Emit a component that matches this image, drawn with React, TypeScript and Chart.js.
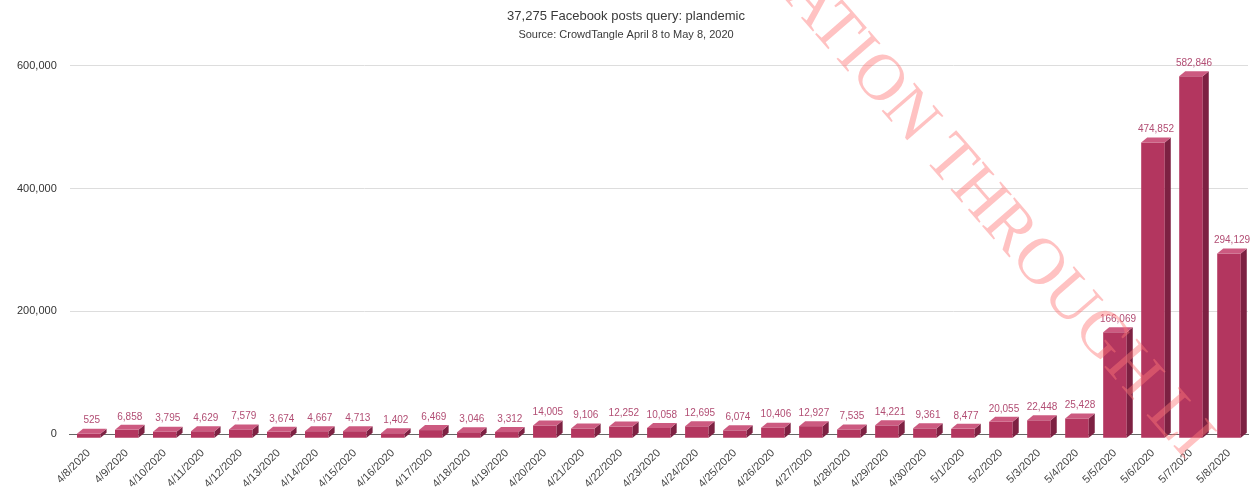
import React, { useEffect, useRef } from "react";
import { Chart, registerables } from "chart.js";

Chart.register(...registerables);

const categories = [
  "4/8/2020", "4/9/2020", "4/10/2020", "4/11/2020", "4/12/2020", "4/13/2020", "4/14/2020",
  "4/15/2020", "4/16/2020", "4/17/2020", "4/18/2020", "4/19/2020", "4/20/2020", "4/21/2020",
  "4/22/2020", "4/23/2020", "4/24/2020", "4/25/2020", "4/26/2020", "4/27/2020", "4/28/2020",
  "4/29/2020", "4/30/2020", "5/1/2020", "5/2/2020", "5/3/2020", "5/4/2020", "5/5/2020",
  "5/6/2020", "5/7/2020", "5/8/2020",
];

const posts = [
  525, 6858, 3795, 4629, 7579, 3674, 4667, 4713, 1402, 6469, 3046, 3312, 14005, 9106,
  12252, 10058, 12695, 6074, 10406, 12927, 7535, 14221, 9361, 8477, 20055, 22448, 25428,
  166069, 474852, 582846, 294129,
];

const yTicks = [0, 200000, 400000, 600000];

const titleText = "37,275 Facebook posts query: plandemic";
const subtitleText = "Source: CrowdTangle April 8 to May 8, 2020";
const watermarkText = "ATION THROUGH LI";

const FRONT = "#b3365f";
const TOP = "#cc5a80";
const SIDE = "#7d2142";
const LABEL = "#b24e74";
const DX = 6;
const DY = 5;

const bar3d = {
  id: "bar3d",
  afterDatasetsDraw(chart: any) {
    const ctx = chart.ctx;
    const meta = chart.getDatasetMeta(0);
    ctx.save();
    meta.data.forEach((el: any, i: number) => {
      const p = el.getProps(["x", "y", "base", "width"], true);
      const L = p.x - p.width / 2;
      const R = p.x + p.width / 2;
      const T = p.y;
      const B = p.base;
      ctx.fillStyle = SIDE;
      ctx.beginPath();
      ctx.moveTo(R, T);
      ctx.lineTo(R + DX, T - DY);
      ctx.lineTo(R + DX, B - DY);
      ctx.lineTo(R, B);
      ctx.closePath();
      ctx.fill();
      ctx.fillStyle = TOP;
      ctx.beginPath();
      ctx.moveTo(L, T);
      ctx.lineTo(R, T);
      ctx.lineTo(R + DX, T - DY);
      ctx.lineTo(L + DX, T - DY);
      ctx.closePath();
      ctx.fill();
      ctx.fillStyle = LABEL;
      ctx.font = "10px 'Liberation Sans', Arial, sans-serif";
      ctx.textAlign = "center";
      ctx.textBaseline = "bottom";
      ctx.fillText(posts[i].toLocaleString("en-US"), p.x + DX / 2, T - DY - 3);
    });
    ctx.restore();
  },
};

const watermark = {
  id: "watermark",
  afterDraw(chart: any) {
    const ctx = chart.ctx;
    ctx.save();
    ctx.translate(782, -4);
    ctx.rotate((49 * Math.PI) / 180);
    ctx.font = "66px 'Liberation Serif', 'DejaVu Serif', serif";
    ctx.fillStyle = "rgba(255, 120, 120, 0.45)";
    ctx.textBaseline = "alphabetic";
    ctx.textAlign = "left";
    ctx.fillText(watermarkText, 0, 0);
    ctx.restore();
  },
};

export default function App() {
  const ref = useRef<HTMLCanvasElement | null>(null);

  useEffect(() => {
    if (!ref.current) return;
    Chart.defaults.font.family = "'Liberation Sans', Arial, sans-serif";
    const chart = new Chart(ref.current, {
      type: "bar",
      data: {
        labels: categories,
        datasets: [
          {
            label: "Posts",
            data: posts,
            backgroundColor: FRONT,
            borderWidth: 0,
            barPercentage: 0.62,
            categoryPercentage: 1,
            base: -6000,
            clip: false as any,
          },
        ],
      },
      options: {
        responsive: false,
        animation: false,
        devicePixelRatio: 1,
        layout: { padding: { left: 4, right: 6, top: 0, bottom: 0 } },
        plugins: {
          legend: { display: false },
          tooltip: { enabled: false },
          title: {
            display: true,
            text: titleText,
            color: "#3a3a3a",
            font: { size: 13, weight: "normal" },
            padding: { top: 9, bottom: 4 },
          },
          subtitle: {
            display: true,
            text: subtitleText,
            color: "#3a3a3a",
            font: { size: 11, weight: "normal" },
            padding: { top: 0, bottom: 24 },
          },
        },
        scales: {
          x: {
            grid: { display: false },
            border: { display: true, color: "#666" },
            ticks: {
              color: "#444",
              font: { size: 11 },
              maxRotation: 45,
              minRotation: 45,
              autoSkip: false,
              padding: 4.5,
            },
          },
          y: {
            min: 0,
            max: 600000,
            afterBuildTicks: (scale: any) => {
              scale.ticks = yTicks.map((v) => ({ value: v }));
            },
            grid: {
              color: (c: any) => (c.tick && c.tick.value === 0 ? "#666" : "#ddd"),
              drawTicks: false,
            },
            border: { display: false },
            ticks: {
              color: "#333",
              font: { size: 11 },
              padding: 13,
              callback: (v: any) => Number(v).toLocaleString("en-US"),
            },
          },
        },
      },
      plugins: [bar3d, watermark],
    });
    return () => chart.destroy();
  }, []);

  return (
    <div style={{ position: "absolute", left: 0, top: 0, width: 1254, height: 495, background: "#fff" }}>
      <canvas ref={ref} width={1254} height={495} />
    </div>
  );
}
